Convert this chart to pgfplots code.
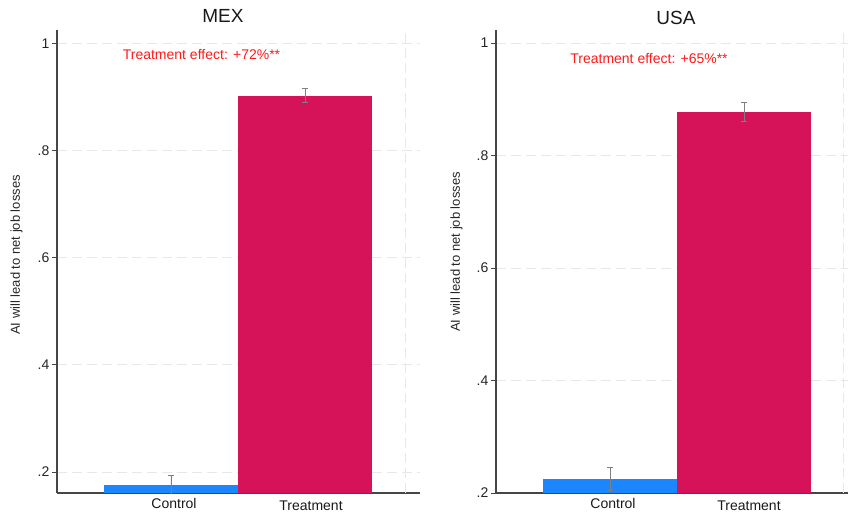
\documentclass[border=0pt]{standalone}
\usepackage{pgfplots}
\pgfplotsset{compat=1.18}
\usepackage{fontspec}
\setmainfont{Liberation Sans}

\definecolor{ctrlblue}{RGB}{28,134,255}
\definecolor{treatred}{RGB}{214,19,89}
\definecolor{gridgray}{RGB}{232,232,232}
\definecolor{axisgray}{RGB}{70,70,70}
\definecolor{errgray}{RGB}{128,128,128}
\definecolor{effred}{RGB}{255,25,25}

\pgfplotsset{
  panel/.style={
    scale only axis,
    anchor=south west,
    axis lines=left,
    axis line style={-, axisgray, line width=1.1pt},
    enlargelimits=false,
    ybar, bar shift=0pt, bar width=1,
    xtick=\empty,
    ytick={0.2,0.4,0.6,0.8,1},
    yticklabels={.2,.4,.6,.8,1},
    tick align=outside,
    major tick length=5.5pt,
    ytick style={axisgray, line width=0.8pt},
    yticklabel style={font=\fontsize{14}{16}\selectfont, text=black!85, inner sep=2pt},
    ymajorgrids,
    major grid style={gridgray, line width=0.9pt, dash pattern=on 10pt off 5pt},
    extra x tick style={grid=major, major tick length=0pt, xticklabel=\empty},
    error bars/y dir=both,
    error bars/y explicit,
    error bars/error bar style={errgray, line width=0.9pt},
    error bars/error mark options={errgray, line width=0.9pt, mark size=2.7pt, rotate=90},
  },
}

\begin{document}
\begin{tikzpicture}
\useasboundingbox (0pt,0pt) rectangle (848pt,512pt);

% ---- MEX ----
\begin{axis}[panel,
  at={(57pt,19pt)}, width=363pt, height=463pt,
  xmin=-0.8507, xmax=1.8582, ymin=0.16082, ymax=1.02463,
  extra x ticks={1.746}]
  \addplot[fill=ctrlblue, draw=none] coordinates {(0,0.176) +- (0,0.017)};
  \addplot[fill=treatred, draw=none] coordinates {(1,0.902) +- (0,0.013)};
\end{axis}

% ---- USA ----
\begin{axis}[panel,
  at={(496pt,19pt)}, width=352pt, height=463pt,
  xmin=-0.8507, xmax=1.776, ymin=0.2, ymax=1.0231,
  extra x ticks={1.739}]
  \addplot[fill=ctrlblue, draw=none] coordinates {(0,0.225) +- (0,0.021)};
  \addplot[fill=treatred, draw=none] coordinates {(1,0.877) +- (0,0.017)};
\end{axis}

% titles
\node[font=\fontsize{19}{22}\selectfont, text=black!90] at (223pt,496pt) {MEX};
\node[font=\fontsize{19}{22}\selectfont, text=black!90] at (676pt,494.5pt) {USA};

% annotations
\node[font=\fontsize{14}{16}\selectfont, text=effred] at (201.5pt,457pt) {Treatment effect: +72\%**};
\node[font=\fontsize{14}{16}\selectfont, text=effred] at (649pt,453.5pt) {Treatment effect: +65\%**};

% y axis labels
\node[rotate=90, font=\fontsize{13}{15}\selectfont, text=black!85] at (16.5pt,257pt) {AI will lead to net job losses};
\node[rotate=90, font=\fontsize{13}{15}\selectfont, text=black!85] at (456.5pt,260pt) {AI will lead to net job losses};

% category labels
\node[font=\fontsize{14}{16}\selectfont, text=black!90] at (174pt,9pt) {Control};
\node[font=\fontsize{14}{16}\selectfont, text=black!90] at (311pt,6.5pt) {Treatment};
\node[font=\fontsize{14}{16}\selectfont, text=black!90] at (613pt,9pt) {Control};
\node[font=\fontsize{14}{16}\selectfont, text=black!90] at (749pt,6.5pt) {Treatment};
\end{tikzpicture}
\end{document}
